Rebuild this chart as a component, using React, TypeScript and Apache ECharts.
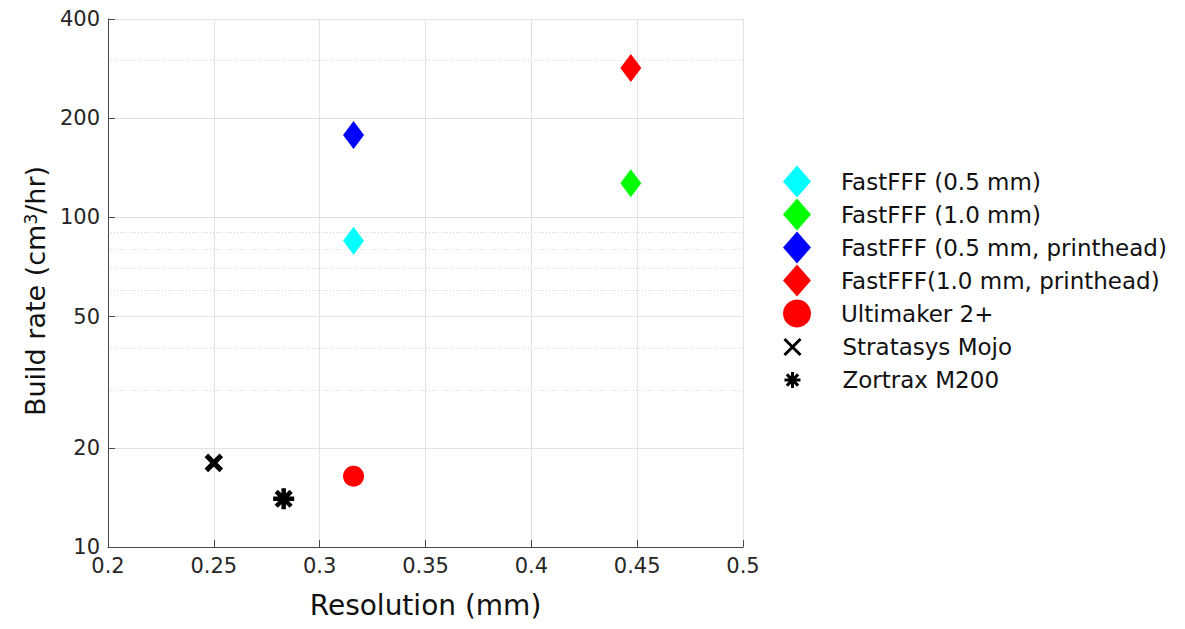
import React, { useEffect, useRef } from "react";
import * as echarts from "echarts";

const seriesNames = [
  "FastFFF (0.5 mm)",
  "FastFFF (1.0 mm)",
  "FastFFF (0.5 mm, printhead)",
  "FastFFF(1.0 mm, printhead)",
  "Ultimaker 2+",
  "Stratasys Mojo",
  "Zortrax M200",
];
const resolutionMm = [0.316, 0.447, 0.316, 0.447, 0.316, 0.25, 0.283];
const buildRate = [85, 127, 178, 284, 16.4, 18, 14];
const markerColors = ["#00ffff", "#00ff00", "#0000ff", "#ff0000", "#ff0000", "#000000", "#000000"];

const yTickValues = [10, 20, 50, 100, 200, 400];
const yMinorGridValues = [30, 40, 60, 70, 80, 90, 300];
const xMin = 0.2;
const xMax = 0.5;
const xStep = 0.05;

const FONT = "DejaVu Sans";
const AXIS_COLOR = "#4a4a4a";
const GRID_COLOR = "#e2e2e2";

const CROSS = "path://M0 0L10 10M10 0L0 10";
const ASTERISK = "path://M5 0L5 10M0 5L10 5M1.46 1.46L8.54 8.54M8.54 1.46L1.46 8.54";

export default function App() {
  const ref = useRef<HTMLDivElement>(null);

  useEffect(() => {
    if (!ref.current) return;
    const chart = echarts.init(ref.current, undefined, { renderer: "svg" });

    const symbolFor = (i: number) => {
      if (i < 4)
        return { symbol: "diamond", symbolSize: [21, 28], itemStyle: { color: markerColors[i], opacity: 1 } };
      if (i === 4) return { symbol: "circle", symbolSize: 21, itemStyle: { color: markerColors[i], opacity: 1 } };
      if (i === 5)
        return {
          symbol: CROSS,
          symbolSize: 15,
          itemStyle: { color: markerColors[i], borderColor: markerColors[i], borderWidth: 5, opacity: 1 },
        };
      return {
        symbol: ASTERISK,
        symbolSize: 21,
        itemStyle: { color: markerColors[i], borderColor: markerColors[i], borderWidth: 4.5, opacity: 1 },
      };
    };

    const series = seriesNames.map((name, i) => ({
      type: "scatter",
      name,
      xAxisIndex: 0,
      yAxisIndex: 0,
      data: [[resolutionMm[i], buildRate[i]]],
      ...symbolFor(i),
    }));

    const option: any = {
      animation: false,
      backgroundColor: "#ffffff",
      grid: { left: 108, top: 19, right: 442, bottom: 82, containLabel: false },
      legend: [
        {
          orient: "vertical",
          left: 778,
          top: 160,
          itemWidth: 28,
          itemHeight: 32,
          itemGap: 0,
          data: seriesNames.slice(0, 5),
          itemStyle: { opacity: 1 },
          textStyle: { fontFamily: FONT, fontSize: 23, color: "#111", lineHeight: 33, padding: [0, 0, 0, 25] },
          selectedMode: false,
        },
        {
          orient: "vertical",
          left: 778,
          top: 325.5,
          itemWidth: 28,
          itemHeight: 16,
          itemGap: 0,
          symbolKeepAspect: true,
          data: seriesNames.slice(5),
          itemStyle: { borderWidth: 3, opacity: 1 },
          textStyle: { fontFamily: FONT, fontSize: 23, color: "#111", lineHeight: 33, padding: [0, 0, 0, 31] },
          selectedMode: false,
        },
      ],
      xAxis: {
        type: "value",
        min: xMin,
        max: xMax,
        interval: xStep,
        name: "Resolution (mm)",
        nameLocation: "middle",
        nameGap: 44,
        nameTextStyle: { fontFamily: FONT, fontSize: 28, color: "#111" },
        axisLine: { show: true, lineStyle: { color: AXIS_COLOR, width: 1 } },
        axisTick: { show: true, inside: true, length: 7, lineStyle: { color: AXIS_COLOR } },
        axisLabel: { fontFamily: FONT, fontSize: 21, color: "#262626", margin: 8 },
        splitLine: { show: true, lineStyle: { color: GRID_COLOR, width: 1 } },
      },
      yAxis: [
        {
          type: "log",
          logBase: 10,
          min: 10,
          max: 400,
          position: "left",
          name: "Build rate (cm{sup|3}/hr)",
          nameLocation: "middle",
          nameGap: 46,
          nameTextStyle: {
            fontFamily: FONT,
            fontSize: 27,
            color: "#111",
            padding: [0, 16, 0, 0],
            rich: {
              sup: { fontFamily: FONT, fontSize: 17, lineHeight: 17, verticalAlign: "top", color: "#111" },
            },
          },
          axisLine: { show: true, lineStyle: { color: AXIS_COLOR, width: 1 } },
          axisTick: { show: true, inside: true, length: 7, customValues: yTickValues, lineStyle: { color: AXIS_COLOR } },
          axisLabel: {
            customValues: yTickValues,
            fontFamily: FONT,
            fontSize: 21,
            color: "#262626",
            margin: 8,
            formatter: (v: number) => String(Math.round(v)),
          },
          splitLine: { show: true, lineStyle: { color: GRID_COLOR, width: 1 } },
        },
        {
          type: "log",
          logBase: 10,
          min: 10,
          max: 400,
          position: "left",
          axisLine: { show: false },
          axisTick: { show: false, customValues: yMinorGridValues },
          axisLabel: { show: false, customValues: yMinorGridValues },
          splitLine: { show: true, lineStyle: { color: "#d4d4d4", width: 1, type: [1, 2] } },
        },
      ],
      series,
    };

    chart.setOption(option);
    return () => chart.dispose();
  }, []);

  return (
    <div
      ref={ref}
      style={{ position: "absolute", left: 0, top: 0, width: 1185, height: 629, background: "#fff" }}
    />
  );
}
